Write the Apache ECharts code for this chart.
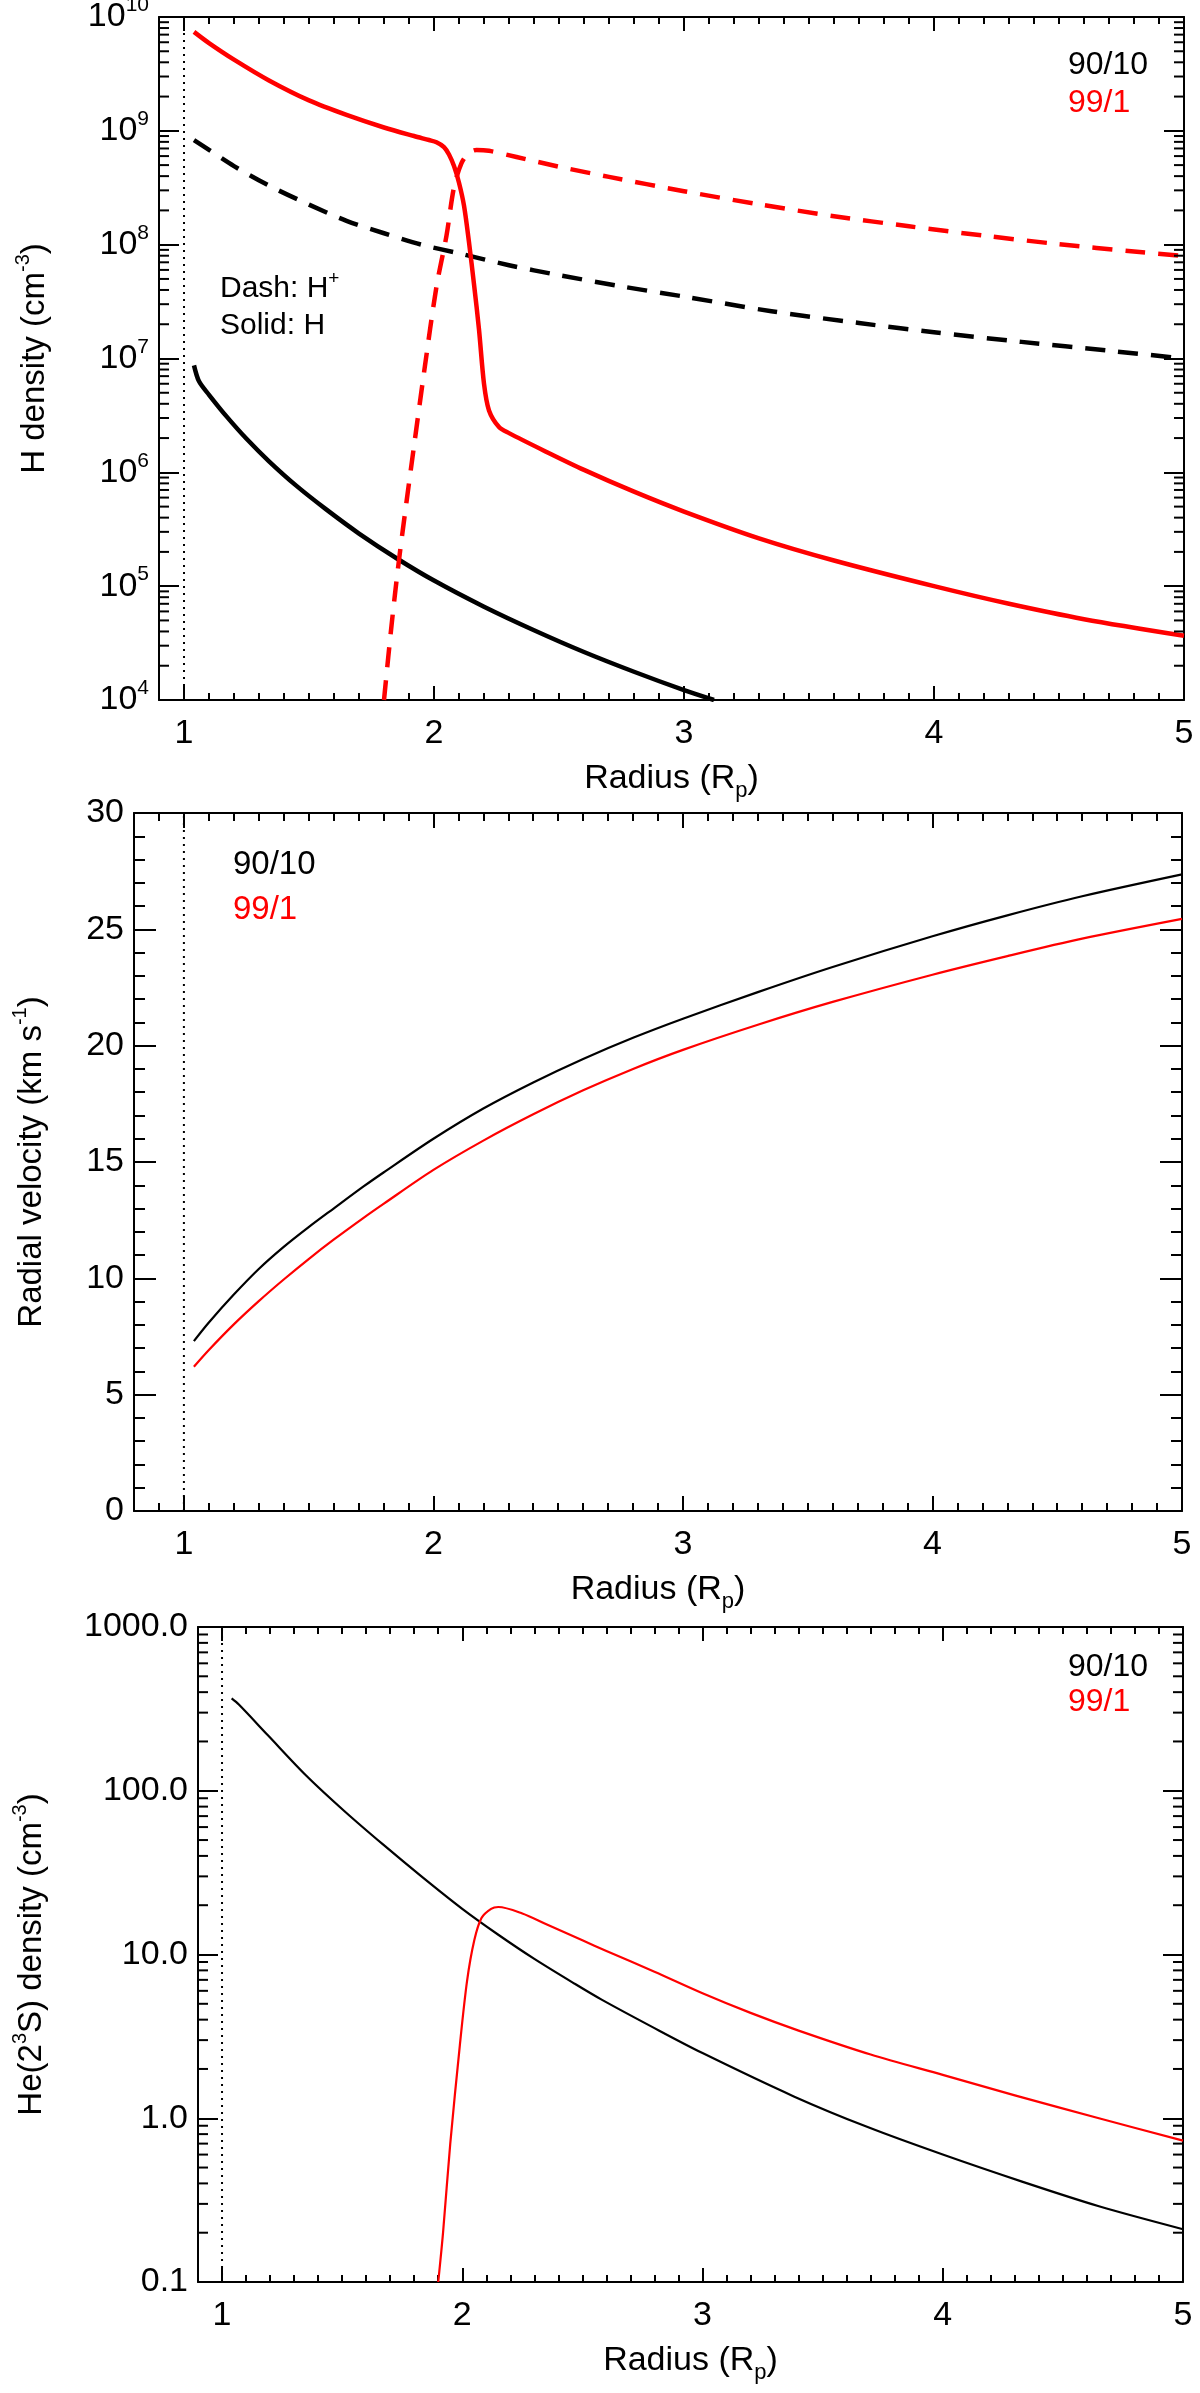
<!DOCTYPE html>
<html>
<head>
<meta charset="utf-8">
<script src="https://cdn.jsdelivr.net/npm/echarts/dist/echarts.min.js"></script>
<style>
html,body{margin:0;padding:0;background:#fff;}
#c{width:1200px;height:2393px;}
</style>
</head>
<body>
<div id="c"></div>
<script>
// ---------------- Panel 1: H / H+ density (cm^-3) ----------------
const p1_r_H_9010  = [1.04, 1.06, 1.10, 1.17, 1.25, 1.34, 1.45, 1.57, 1.70, 1.85, 2.00, 2.20, 2.40, 2.60, 2.80, 3.00, 3.12];
const p1_n_H_9010  = [8.7e6, 6.3e6, 4.8e6, 3.1e6, 1.97e6, 1.25e6, 7.6e5, 4.7e5, 2.9e5, 1.76e5, 1.12e5, 6.6e4, 4.1e4, 2.64e4, 1.77e4, 1.22e4, 1.0e4];
const p1_r_Hp_9010 = [1.04, 1.10, 1.20, 1.34, 1.50, 1.65, 1.80, 1.95, 2.10, 2.30, 2.50, 2.75, 3.00, 3.35, 3.70, 4.00, 4.35, 4.70, 5.00];
const p1_n_Hp_9010 = [8.3e8, 6.8e8, 4.9e8, 3.3e8, 2.25e8, 1.62e8, 1.26e8, 1.0e8, 8.4e7, 6.6e7, 5.4e7, 4.3e7, 3.5e7, 2.6e7, 2.05e7, 1.7e7, 1.4e7, 1.17e7, 1.0e7];
const p1_r_H_991   = [1.04, 1.10, 1.20, 1.34, 1.50, 1.65, 1.80, 1.92, 1.98, 2.01, 2.04, 2.06, 2.08, 2.10, 2.12, 2.14, 2.16, 2.18, 2.20, 2.22, 2.26, 2.30, 2.44, 2.60, 2.80, 3.00, 3.30, 3.60, 4.00, 4.30, 4.60, 5.00];
const p1_n_H_991   = [7.4e9, 5.9e9, 4.22e9, 2.77e9, 1.85e9, 1.38e9, 1.07e9, 9.0e8, 8.3e8, 7.95e8, 7.2e8, 6.2e8, 4.9e8, 3.5e8, 2.2e8, 1.05e8, 4.5e7, 1.8e7, 6.0e6, 3.5e6, 2.5e6, 2.21e6, 1.55e6, 1.05e6, 6.76e5, 4.52e5, 2.63e5, 1.68e5, 1.0e5, 7.0e4, 5.13e4, 3.67e4];
const p1_r_Hp_991  = [1.80, 1.83, 1.86, 1.89, 1.92, 1.96, 2.01, 2.05, 2.08, 2.11, 2.14, 2.17, 2.22, 2.33, 2.50, 2.70, 3.00, 3.30, 3.60, 3.90, 4.20, 4.50, 4.80, 5.00];
const p1_n_Hp_991  = [1.0e4, 4.5e4, 1.7e5, 5.5e5, 1.7e6, 7.5e6, 4.3e7, 1.2e8, 3.2e8, 5.2e8, 6.4e8, 6.8e8, 6.68e8, 5.89e8, 4.84e8, 3.94e8, 2.95e8, 2.26e8, 1.78e8, 1.45e8, 1.2e8, 1.01e8, 8.7e7, 7.94e7];

// ---------------- Panel 2: radial velocity (km/s) ----------------
const p2_r      = [1.04, 1.10, 1.20, 1.30, 1.40, 1.50, 1.60, 1.72, 1.80, 2.00, 2.20, 2.40, 2.60, 2.80, 3.00, 3.30, 3.60, 4.00, 4.30, 4.60, 5.00];
const p2_v_9010 = [7.3, 8.1, 9.3, 10.4, 11.35, 12.2, 13.0, 13.95, 14.55, 16.0, 17.3, 18.42, 19.43, 20.34, 21.16, 22.3, 23.38, 24.7, 25.6, 26.42, 27.36];
const p2_v_991  = [6.2, 6.92, 8.02, 9.02, 9.95, 10.83, 11.66, 12.6, 13.2, 14.66, 15.92, 17.05, 18.08, 19.0, 19.82, 20.9, 21.88, 23.05, 23.85, 24.6, 25.45];

// ---------------- Panel 3: He(2^3S) density (cm^-3) ----------------
const p3_r_9010 = [1.04, 1.07, 1.19, 1.35, 1.51, 1.67, 1.83, 2.00, 2.15, 2.30, 2.47, 2.58, 2.80, 3.00, 3.38, 3.69, 4.00, 4.33, 4.65, 5.00];
const p3_n_9010 = [366, 336, 219, 124, 75, 47, 30, 19, 13.2, 9.4, 6.6, 5.3, 3.55, 2.5, 1.36, 0.88, 0.60, 0.41, 0.29, 0.21];
const p3_r_991  = [1.90, 1.92, 1.95, 1.99, 2.02, 2.05, 2.08, 2.12, 2.15, 2.25, 2.35, 2.50, 2.60, 2.80, 3.00, 3.20, 3.40, 3.70, 4.00, 4.30, 4.65, 5.00];
const p3_n_991  = [0.1, 0.2, 0.7, 2.8, 6.9, 12.2, 16.7, 19.0, 19.5, 17.8, 15.3, 12.2, 10.5, 7.85, 5.8, 4.4, 3.43, 2.45, 1.84, 1.38, 1.0, 0.73];

// ---------------- Axis ranges / labels ----------------
const p1_xRange = [0.9, 5];   const p1_yRange = [1e4, 1e10];
const p2_xRange = [0.8, 5];   const p2_yRange = [0, 30];
const p3_xRange = [0.9, 5];   const p3_yRange = [0.1, 1000];
const surfaceR = 1;
const legendLabels = ['90/10', '99/1'];
const xTitle = 'Radius (R{sub|p})';
const yTitles = ['H density (cm{sup|-3})', 'Radial velocity (km s{sup|-1})', 'He(2{sup|3}S) density (cm{sup|-3})'];
const textLabels = ['Dash: H{sup|+}', 'Solid: H'];

const FONT = "'Liberation Sans', Arial, Helvetica, sans-serif";
const BLACK = '#000000', RED = '#ff0000';
const pairs = (xs, ys) => xs.map((x, i) => [x, ys[i]]);

const chart = echarts.init(document.getElementById('c'), null, {renderer: 'canvas', width: 1200, height: 2393});

const grids = [
  {left: 159, top: 17, width: 1025, height: 683},
  {left: 134, top: 813, width: 1048, height: 698},
  {left: 198, top: 1627, width: 985, height: 655}
].map(g => Object.assign({containLabel: false, outerBoundsMode: 'none', show: false}, g));

const tickLine = {color: BLACK, width: 2};
const richStyles = {
  sup: {fontSize: 20, lineHeight: 20, verticalAlign: 'top', fontFamily: FONT, color: BLACK},
  sub: {fontSize: 22, lineHeight: 22, verticalAlign: 'bottom', fontFamily: FONT, color: BLACK}
};
const nameStyle = {fontSize: 34, fontFamily: FONT, color: BLACK, lineHeight: 46, rich: richStyles};
const yNameStyle = {fontSize: 33, fontFamily: FONT, color: BLACK, lineHeight: 44, rich: richStyles};

const xAxis = [], yAxis = [], series = [];

function addX(g, range, majorLen, minorLen) {
  const base = {gridIndex: g, type: 'value', min: range[0], max: range[1], splitLine: {show: false}};
  const line = {show: true, onZero: false, lineStyle: tickLine};
  const idx = xAxis.length;
  xAxis.push(Object.assign({}, base, {
    position: 'bottom', splitNumber: 4, axisLine: line,
    axisTick: {show: true, inside: true, length: majorLen, lineStyle: tickLine},
    axisLabel: {show: true, margin: 17, color: BLACK, fontSize: 34, fontFamily: FONT,
      showMinLabel: false, showMaxLabel: true, formatter: v => String(Math.round(v * 10) / 10)},
    name: xTitle, nameLocation: 'middle', nameGap: 56, nameTextStyle: nameStyle
  }));
  xAxis.push(Object.assign({}, base, {
    position: 'top', splitNumber: 4, axisLine: line,
    axisTick: {show: true, inside: true, length: majorLen, lineStyle: tickLine},
    axisLabel: {show: false}
  }));
  ['bottom', 'top'].forEach(p => xAxis.push(Object.assign({}, base, {
    position: p, interval: 0.1, axisLine: {show: false, onZero: false},
    axisTick: {show: true, inside: true, length: minorLen, lineStyle: tickLine},
    axisLabel: {show: false}
  })));
  return idx;
}

function addY(g, cfg) {
  const base = {gridIndex: g, type: cfg.type, min: cfg.range[0], max: cfg.range[1], splitLine: {show: false}};
  if (cfg.type === 'log') { base.logBase = 10; base.splitNumber = cfg.splitNumber; }
  else { base.interval = cfg.interval; }
  const line = {show: true, onZero: false, lineStyle: tickLine};
  const idx = yAxis.length;
  yAxis.push(Object.assign({}, base, {
    position: 'left', axisLine: line,
    axisTick: {show: true, inside: true, length: cfg.majorLen, lineStyle: tickLine},
    axisLabel: {show: true, margin: 10, color: BLACK, fontSize: 34, fontFamily: FONT, lineHeight: 44,
      formatter: cfg.formatter, rich: {sup: {fontSize: 21, lineHeight: 21, verticalAlign: 'top', fontFamily: FONT, color: BLACK}},
      showMinLabel: true, showMaxLabel: true},
    name: cfg.name, nameLocation: 'middle', nameRotate: 90, nameGap: cfg.nameGap, nameTextStyle: yNameStyle
  }));
  yAxis.push(Object.assign({}, base, {
    position: 'right', axisLine: line,
    axisTick: {show: true, inside: true, length: cfg.majorLen, lineStyle: tickLine},
    axisLabel: {show: false}
  }));
  if (cfg.minorInterval) {
    ['left', 'right'].forEach(p => yAxis.push({
      gridIndex: g, type: 'value', min: cfg.range[0], max: cfg.range[1], interval: cfg.minorInterval,
      position: p, splitLine: {show: false}, axisLine: {show: false, onZero: false},
      axisTick: {show: true, inside: true, length: cfg.minorLen, lineStyle: tickLine},
      axisLabel: {show: false}
    }));
  }
  return idx;
}

function lineSeries(xi, yi, xs, ys, color, width, dash) {
  return {
    type: 'line', xAxisIndex: xi, yAxisIndex: yi, data: pairs(xs, ys),
    symbol: 'none', showSymbol: false, smooth: 0.3,
    lineStyle: {color: color, width: width, type: dash || 'solid', cap: 'butt', join: 'round'},
    animation: false, silent: true, clip: true, z: 3
  };
}

function surfaceLine(xi, yi, yr) {
  return {
    type: 'line', xAxisIndex: xi, yAxisIndex: yi, data: [[surfaceR, yr[0]], [surfaceR, yr[1]]],
    symbol: 'none', lineStyle: {color: BLACK, width: 2, type: [2, 5]}, animation: false, silent: true, z: 2
  };
}

function logMinorTicks(xi, yi, xmin, lo, hi, len) {
  const vals = [];
  for (let e = lo; e < hi; e++) for (let m = 2; m <= 9; m++) vals.push(m * Math.pow(10, e));
  return {
    type: 'custom', xAxisIndex: xi, yAxisIndex: yi, data: vals.map(v => [xmin, v]),
    silent: true, animation: false, clip: false, z: 5,
    renderItem: function (params, api) {
      const cs = params.coordSys;
      const y = api.coord([api.value(0), api.value(1)])[1];
      return {type: 'group', children: [
        {type: 'line', shape: {x1: cs.x, y1: y, x2: cs.x + len, y2: y}, style: {stroke: BLACK, lineWidth: 2}},
        {type: 'line', shape: {x1: cs.x + cs.width - len, y1: y, x2: cs.x + cs.width, y2: y}, style: {stroke: BLACK, lineWidth: 2}}
      ]};
    }
  };
}

// ---- Panel 1 ----
const x1 = addX(0, p1_xRange, 14, 7);
const y1 = addY(0, {type: 'log', range: p1_yRange, splitNumber: 6, majorLen: 20,
  formatter: v => '10{sup|' + Math.round(Math.log10(v)) + '}', name: yTitles[0], nameGap: 102});
series.push(surfaceLine(x1, y1, p1_yRange));
series.push(logMinorTicks(x1, y1, p1_xRange[0], 4, 10, 10));
series.push(lineSeries(x1, y1, p1_r_H_9010, p1_n_H_9010, BLACK, 4.5));
series.push(lineSeries(x1, y1, p1_r_Hp_9010, p1_n_Hp_9010, BLACK, 4.5, [20, 13]));
series.push(lineSeries(x1, y1, p1_r_Hp_991, p1_n_Hp_991, RED, 4.5, [20, 13]));
series.push(lineSeries(x1, y1, p1_r_H_991, p1_n_H_991, RED, 4.5));

// ---- Panel 2 ----
const x2 = addX(1, p2_xRange, 15, 8);
const y2 = addY(1, {type: 'value', range: p2_yRange, interval: 5, minorInterval: 1, majorLen: 22, minorLen: 11,
  formatter: v => String(v), name: yTitles[1], nameGap: 80});
series.push(surfaceLine(x2, y2, p2_yRange));
series.push(lineSeries(x2, y2, p2_r, p2_v_9010, BLACK, 2.2));
series.push(lineSeries(x2, y2, p2_r, p2_v_991, RED, 2.2));

// ---- Panel 3 ----
const x3 = addX(2, p3_xRange, 14, 7);
const y3 = addY(2, {type: 'log', range: p3_yRange, splitNumber: 4, majorLen: 20,
  formatter: v => v.toFixed(1), name: yTitles[2], nameGap: 144});
series.push(surfaceLine(x3, y3, p3_yRange));
series.push(logMinorTicks(x3, y3, p3_xRange[0], -1, 3, 10));
series.push(lineSeries(x3, y3, p3_r_9010, p3_n_9010, BLACK, 2.2));
series.push(lineSeries(x3, y3, p3_r_991, p3_n_991, RED, 2.2));

// ---- In-plot text ----
function txt(x, y, text, color, size) {
  return {type: 'text', x: x, y: y, silent: true, z: 10,
    style: {text: text, fill: color, fontSize: size, fontFamily: FONT, verticalAlign: 'middle', align: 'left',
      rich: {sup: {fontSize: 19, lineHeight: 19, verticalAlign: 'top', fontFamily: FONT, fill: color}}, lineHeight: 40}};
}
const graphic = [
  txt(1068, 65, legendLabels[0], BLACK, 32),
  txt(1068, 103, legendLabels[1], RED, 32),
  txt(220, 289, textLabels[0], BLACK, 30),
  txt(220, 326, textLabels[1], BLACK, 30),
  txt(233, 865, legendLabels[0], BLACK, 33),
  txt(233, 910, legendLabels[1], RED, 33),
  txt(1068, 1667, legendLabels[0], BLACK, 32),
  txt(1068, 1702, legendLabels[1], RED, 32)
];

chart.setOption({
  backgroundColor: '#ffffff',
  animation: false,
  textStyle: {fontFamily: FONT},
  grid: grids,
  xAxis: xAxis,
  yAxis: yAxis,
  series: series,
  graphic: graphic
});
</script>
</body>
</html>
